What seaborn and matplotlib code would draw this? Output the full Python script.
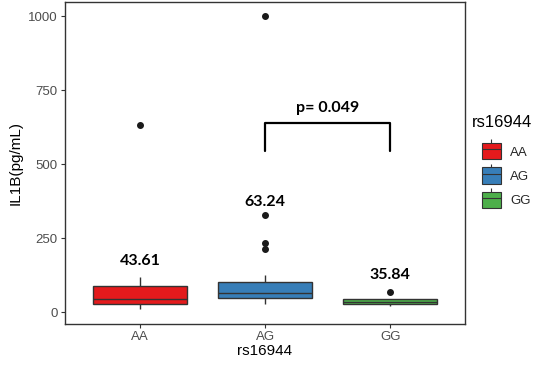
import numpy as np
import pandas as pd
import matplotlib
matplotlib.use('Agg')
import matplotlib.pyplot as plt
from matplotlib.patches import Patch
from matplotlib.lines import Line2D
from matplotlib.legend_handler import HandlerTuple
import seaborn as sns

# IL1B values per rs16944 genotype
aa_values = [9, 20, 29, 38, 43.61, 70, 89, 119, 631]
ag_values = [29, 33, 37, 41, 44, 47, 51, 55, 58, 61, 63.24, 70, 78, 86, 94, 101,
             124, 213, 235, 328, 1000]
gg_values = [21, 25, 28, 32, 35.84, 39, 43, 44, 67]

genotypes = ['AA', 'AG', 'GG']
colors = ['#E41A1C', '#377EB8', '#4DAF4A']
label_heights = [172, 372, 125]
p_text = 'p= 0.049'

df = pd.DataFrame({
    'rs16944': ['AA'] * len(aa_values) + ['AG'] * len(ag_values) + ['GG'] * len(gg_values),
    'IL1B': aa_values + ag_values + gg_values,
})

sns.set_style('white')
plt.rcParams['font.family'] = ['Liberation Sans', 'DejaVu Sans']

fig = plt.figure(figsize=(5.36, 3.69), dpi=100)
ax = fig.add_axes([0.121, 0.122, 0.747, 0.873])

edge = '#333333'
sns.boxplot(data=df, x='rs16944', y='IL1B', hue='rs16944', order=genotypes,
            hue_order=genotypes, palette=colors, width=0.75, linewidth=1,
            linecolor=edge, showcaps=False, legend=False, saturation=1,
            flierprops=dict(marker='o', markerfacecolor='#1a1a1a', markeredgecolor='#1a1a1a',
                            markersize=4), ax=ax)

# median labels above each box
for i, g in enumerate(genotypes):
    med = df.loc[df['rs16944'] == g, 'IL1B'].median()
    ax.text(i, label_heights[i], f'{med:.2f}', ha='center', va='center', color='black',
            fontsize=11.5, fontweight='bold', family=['Lato', 'DejaVu Sans'])

# significance bracket AG vs GG
ax.plot([1, 1, 2, 2], [545, 640, 640, 545], color='black', lw=1.6,
        solid_joinstyle='round')
ax.text(1.5, 690, p_text, ha='center', va='center', fontsize=11.5, color='black',
        fontweight='bold', family=['Lato', 'DejaVu Sans'])

ax.set_ylim(-40, 1048)
ax.set_yticks([0, 250, 500, 750, 1000])
ax.set_xlim(-0.6, 2.6)
ax.set_xlabel('rs16944', fontsize=11, labelpad=1, color='black')
ax.set_ylabel('IL1B(pg/mL)', fontsize=11, color='black')
ax.tick_params(axis='both', length=3, width=0.8, color=edge, labelcolor='#4D4D4D',
               labelsize=9.5, pad=2, left=True, bottom=True)
for s in ax.spines.values():
    s.set_color(edge)
    s.set_linewidth(1)

# legend: title as separate text so it sits left of the keys like ggplot
fig.text(0.881, 0.667, 'rs16944', fontsize=12, ha='left', va='center', color='black')
handles = []
for c in colors:
    vline = Line2D([], [], color=edge, lw=0, marker='|', markersize=15,
                   markeredgewidth=0.8)
    box = Patch(facecolor=c, edgecolor=edge, linewidth=0.8)
    hline = Line2D([], [], color=edge, lw=0.8)
    handles.append((vline, box, hline))
fig.legend(handles, genotypes, loc='upper left', bbox_to_anchor=(0.899, 0.612),
           frameon=False, fontsize=9.5, handlelength=1.45, handleheight=1.5,
           labelspacing=0.62, handletextpad=0.7, borderpad=0, borderaxespad=0,
           handler_map={tuple: HandlerTuple(ndivide=1, pad=0)})

fig.savefig('out.png', dpi=100)
